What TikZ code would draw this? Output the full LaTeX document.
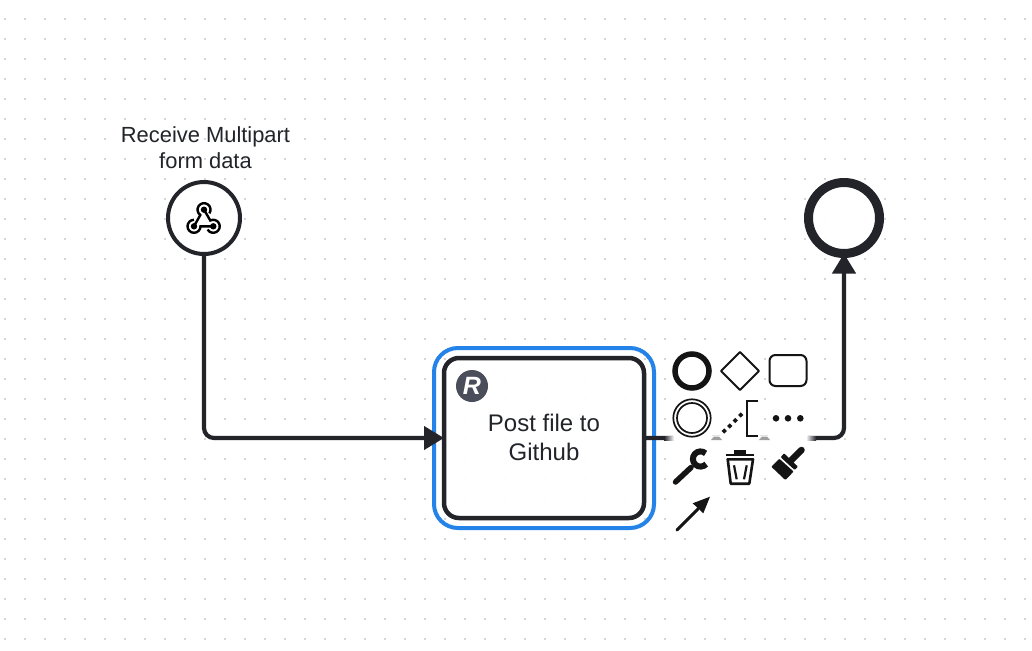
\documentclass[tikz,border=0pt]{standalone}
\usepackage{fontspec}
\setmainfont{Liberation Sans}
\usetikzlibrary{arrows.meta}
\definecolor{ink}{HTML}{22242A}
\definecolor{griddot}{HTML}{D6D6D6}
\definecolor{sel}{HTML}{2483E8}
\definecolor{badge}{HTML}{4A4E5B}
\tikzset{
  x=1pt,y=-1pt,
  flow/.style={draw=ink,line width=4.2pt,rounded corners=10pt,-{Triangle[length=20pt,width=23pt]}},
  event/.style={circle,draw=ink,fill=white,fill opacity=.95,inner sep=0pt,outer sep=0pt},
  tasknode/.style={rectangle,rounded corners=15pt,draw=ink,line width=4.5pt,fill=white,fill opacity=.95,text opacity=1,
    minimum width=200pt,minimum height=160pt,align=center,text=ink,font=\fontsize{24pt}{29pt}\selectfont,inner sep=0pt,outer sep=0pt},
  selbox/.style={rectangle,rounded corners=24pt,draw=sel,line width=4pt,minimum width=220pt,minimum height=180pt,inner sep=0pt},
  lbl/.style={align=center,text=ink,font=\fontsize{21.9pt}{26pt}\selectfont,inner sep=0pt},
  padbg/.style={fill=white,draw=none},
  ico/.style={draw=black!92,fill=none},
}
\begin{document}
\begin{tikzpicture}
\useasboundingbox (0,0) rectangle (1032,650);
\fill[white] (0,0) rectangle (1032,650);
% canvas dots
\foreach \gx in {5,25,...,1025}{\foreach \gy in {19,39,...,639}{
  \fill[griddot] (\gx-1,\gy-1) rectangle (\gx+1,\gy+1);}}
% nodes
\node[selbox] (selection) at (544,438) {};
\node[event,line width=4pt,minimum size=72pt] (start) at (204,218) {};
\node[event,line width=9pt,minimum size=71pt] (finish) at (844,218) {};
\node[tasknode] (task) at (544,438) {\raisebox{1pt}{Post file to}\\\raisebox{1pt}{Github}};
\node[lbl] (startlabel) at (205.5,147.5) {Receive Multipart\\form data};
% connectors
\draw[flow] (start.south) |- (task.west);
\draw[flow] (task.east) -| (finish.south);
% badge
\node[circle,fill=badge,minimum size=32pt,inner sep=0pt,text=white,font=\fontsize{25pt}{25pt}\bfseries\itshape\selectfont] (badgeR) at (472,386) {R};
% webhook icon
\begin{scope}[line width=2.4pt]
\draw[black] (194,226.3) -- (200.3,215.0) arc[start angle=125,end angle=395,radius=6.5];
\draw[black] (204,209.7) -- (210.3,220.5) arc[start angle=243,end angle=510,radius=6.5];
\draw[black] (213.3,226.3) -- (200.5,226.3) arc[start angle=0,end angle=270,radius=6.5];
\fill[black] (204,209.7) circle (3.2) (194,226.3) circle (3.2) (213.3,226.3) circle (3.2);
\end{scope}
% context pad background
\fill[padbg] (673,351) rectangle (712,486);
\fill[padbg] (720,351) rectangle (760,486);
\fill[padbg] (768,351) rectangle (808,486);
\fill[padbg] (712,436) rectangle (720,441);
\fill[padbg] (760,436) rectangle (768,441);
\fill[padbg] (673,494) rectangle (712,534);
\shade[left color=ink,right color=white] (664,436) rectangle (674,440);
\shade[left color=white,right color=ink] (806,436) rectangle (816,440);
\fill[gray!75] (711,440) -- (714,436.5) -- (719,436.5) -- (722,440) -- cycle;
\fill[gray!75] (759,440) -- (762,436.5) -- (767,436.5) -- (770,440) -- cycle;
% pad icons
\coordinate (padEnd) at (692,371);
\draw[ico,line width=5.5pt] (padEnd) circle (17);
\draw[ico,line width=2pt,line join=round] (740,352) -- (759,371) -- (740,390) -- (721,371) -- cycle;
\draw[ico,line width=2pt,rounded corners=6pt] (769.5,355) rectangle (806.5,386);
\draw[ico,line width=1.7pt] (692,418) circle (18.7);
\draw[ico,line width=1.7pt] (692,418) circle (15);
\foreach \pp in {(724.3,431),(729.7,426),(735.3,420.5),(740.7,415)}{
  \fill[black!92] \pp ++(-2.6,0) -- ++(2.6,-2.6) -- ++(2.6,2.6) -- ++(-2.6,2.6) -- cycle;}
\draw[ico,line width=2.6pt] (757.8,401) -- (747,401) -- (747,436) -- (757.8,436);
\fill[black!92] (776,418.3) circle (3.3) (788,418.3) circle (3.3) (800.3,418.3) circle (3.3);
% wrench
\draw[ico,line width=5.5pt,line cap=round] (675.5,482) -- (691,467.5);
\draw[ico,line width=6pt] (700.5,459) ++(-48:7.6) arc[start angle=-48,end angle=-318,radius=7.6];
% trash
\fill[black!92] (733.5,449.5) rectangle (746,455);
\draw[ico,line width=2.2pt] (725.7,455) -- (754,455);
\draw[ico,line width=2.6pt,line join=round] (727.7,459.3) -- (753,459.3) -- (749.3,483.7) -- (730.7,483.7) -- cycle;
\draw[ico,line width=2.2pt] (734,465.3) -- (736.7,479.3) (746.7,465.3) -- (744,479.3);
% brush
\draw[ico,line width=6.5pt,line cap=round] (790.5,461) -- (801.5,450);
\fill[black!92,rounded corners=.8pt] (780.7,457.3) -- (784,453.3) -- (798,466.7) -- (794.7,470) -- cycle;
\fill[black!92,rounded corners=.8pt] (771.3,466.7) -- (779.3,458.7) -- (793.6,471.6) -- (785.3,480) -- cycle;
% connect arrow
\draw[ico,line width=3pt,line cap=round] (677,530) -- (698,509);
\fill[black!92] (710,496.7) -- (692.7,503.3) -- (703.3,513.3) -- cycle;
\end{tikzpicture}
\end{document}
